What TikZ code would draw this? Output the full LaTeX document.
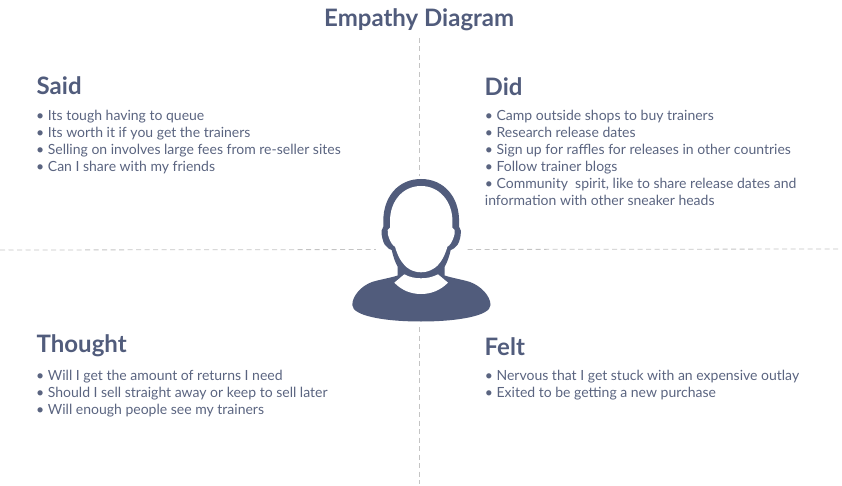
\documentclass[tikz,border=0pt]{standalone}
\usepackage{fontspec}
\setmainfont{Lato}
\definecolor{ink}{HTML}{515C7C}
\definecolor{txt}{HTML}{5A6480}
\definecolor{rule}{HTML}{C4C4C4}
\tikzset{
  title/.style={text=ink,font=\fontsize{24}{28}\selectfont\bfseries,anchor=base west,inner sep=0pt},
  head/.style={text=ink,font=\fontsize{24}{28}\selectfont\bfseries,anchor=base west,inner sep=0pt},
  body/.style={text=txt,font=\fontsize{14}{17}\selectfont,anchor=north west,inner sep=0pt,align=left},
  guide/.style={draw=rule,line width=0.8pt,dash pattern=on 5pt off 3.5pt}
}
\begin{document}
\begin{tikzpicture}[x=1pt,y=-1pt]
\useasboundingbox (0,0) rectangle (842,486);
% guides
\coordinate (vt) at (419,38); \coordinate (vb) at (419,484);
\coordinate (hl) at (0,250); \coordinate (hr) at (840,249);
\draw[guide] (vt) -- (vb);
\draw[guide] (hl) -- (hr);
% figure
\fill[white] (376,176) rectangle (466,280);
\fill[white] (350,280) rectangle (492,324);
\fill[ink]
  (421,179) .. controls (398,179) and (383.3,197) .. (383.3,221)
  -- (383.3,226.7) .. controls (381.5,229) and (381,232) .. (381.7,235)
  .. controls (382.5,240) and (384,245) .. (386.7,246.7)
  .. controls (388,248.5) and (390,249.5) .. (391.7,250)
  .. controls (393,256) and (395,262) .. (397.7,266.7)
  -- (397.7,275.5)
  .. controls (390,278) and (380,279.5) .. (372,282)
  .. controls (361,286) and (352.3,296) .. (352.3,305)
  .. controls (352.3,316) and (385,321.5) .. (421,321.5)
  .. controls (457,321.5) and (490.5,316) .. (490.5,305)
  .. controls (490.5,296) and (481,286) .. (470,282)
  .. controls (462,279.5) and (452,278) .. (444.7,275.5)
  -- (444.7,266.7)
  .. controls (447.4,262) and (449.4,256) .. (450.7,250)
  .. controls (452.4,249.5) and (454.4,248.5) .. (455.7,246.7)
  .. controls (458.4,245) and (459.9,240) .. (460.7,235)
  .. controls (461.4,232) and (460.9,229) .. (459.1,226.7)
  -- (459.1,221)
  .. controls (459.1,197) and (444,179) .. (421,179) -- cycle;
\fill[white]
  (421,186) .. controls (403,186) and (390,201) .. (390,221)
  -- (390,227.7) -- (387.7,230)
  .. controls (387.5,233) and (388,236) .. (389,238)
  .. controls (390.5,242) and (392.5,245.5) .. (395,246.7)
  .. controls (396.5,252) and (399,258) .. (401.7,261.7)
  .. controls (405,267) and (412,272.3) .. (421,272.3)
  .. controls (430,272.3) and (437.4,267) .. (440.7,261.7)
  .. controls (443.4,258) and (445.9,252) .. (447.4,246.7)
  .. controls (449.9,245.5) and (451.9,242) .. (453.4,238)
  .. controls (454.4,236) and (454.9,233) .. (454.7,230)
  -- (452.4,227.7) -- (452.4,221)
  .. controls (452.4,201) and (439,186) .. (421,186) -- cycle;
\fill[white]
  (394.3,282.7) -- (404.3,274.3)
  .. controls (409,277) and (415,278.3) .. (421,278.3)
  .. controls (427,278.3) and (433,277) .. (438,274.3)
  -- (448,282.7)
  .. controls (440,290.5) and (431,294) .. (421,294)
  .. controls (411,294) and (402,290.5) .. (394.3,282.7) -- cycle;
% texts
\node[title] (t) at (324,27) {Empathy Diagram};
\node[head] (said) at (36.5,95) {Said};
\node[body] (saidb) at (36,110) {• Its tough having to queue\\• Its worth it if you get the trainers\\• Selling on involves large fees from re-seller sites\\• Can I share with my friends};
\node[head] (did) at (484.5,95.5) {Did};
\node[body] (didb) at (484.7,110) {• Camp outside shops to buy trainers\\• Research release dates\\• Sign up for raffles for releases in other countries\\• Follow trainer blogs\\• Community\ \ spirit, like to share release dates and\\information with other sneaker heads};
\node[head] (thought) at (36.5,352) {Thought};
\node[body] (thoughtb) at (36,369.5) {• Will I get the amount of returns I need\\• Should I sell straight away or keep to sell later\\• Will enough people see my trainers};
\node[head] (felt) at (484.5,355) {Felt};
\node[body] (feltb) at (484.7,369.5) {• Nervous that I get stuck with an expensive outlay\\• Exited to be getting a new purchase};
\end{tikzpicture}
\end{document}
